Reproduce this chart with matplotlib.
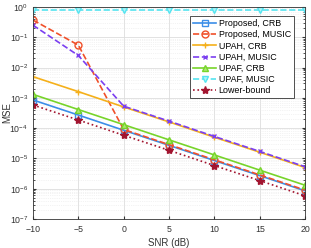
import matplotlib
matplotlib.use("Agg")
import matplotlib.pyplot as plt
import numpy as np

plt.rcParams['font.family'] = ['Liberation Sans', 'DejaVu Sans']
plt.rcParams['mathtext.fontset'] = 'custom'
plt.rcParams['mathtext.rm'] = 'Liberation Sans'
plt.rcParams['mathtext.it'] = 'Liberation Sans:italic'

snr = [-10, -5, 0, 5, 10, 15, 20]
prop_crb = [8.5e-4, 2.7e-4, 8.5e-5, 2.7e-5, 8.5e-6, 2.7e-6, 8.5e-7]
prop_music = [0.37, 0.055, 9.0e-5, 2.85e-5, 9.0e-6, 2.85e-6, 9.0e-7]
upah_crb = [5.0e-3, 1.6e-3, 5.0e-4, 1.6e-4, 5.0e-5, 1.6e-5, 5.0e-6]
upah_music = [0.25, 0.025, 5.3e-4, 1.7e-4, 5.3e-5, 1.7e-5, 5.3e-6]
upaf_crb = [1.3e-3, 4.1e-4, 1.3e-4, 4.1e-5, 1.3e-5, 4.1e-6, 1.3e-6]
upaf_music = [0.82, 0.82, 0.82, 0.82, 0.82, 0.82, 0.82]
lower = [5.8e-4, 1.85e-4, 5.8e-5, 1.85e-5, 5.8e-6, 1.85e-6, 5.8e-7]

fig = plt.figure(figsize=(3.11, 2.48), dpi=100)
ax = fig.add_axes([0.106, 0.117, 0.875, 0.855])

ms = 4
ax.plot(snr, prop_crb, '-', color='#3b8ee8', marker='s', ms=ms, mfc='none', lw=1.2, label='Proposed, CRB')
ax.plot(snr, prop_music, '--', color='#f0502a', marker='o', ms=ms+1, mfc='none', lw=1.2, label='Proposed, MUSIC')
ax.plot(snr, upah_crb, '-', color='#f5b01a', marker='+', ms=ms+1, lw=1.2, label='UPAH, CRB')
ax.plot(snr, upah_music, '--', color='#7b3ff0', marker='x', ms=ms-0.5, lw=1.2, label='UPAH, MUSIC')
ax.plot(snr, upaf_crb, '-', color='#77d42a', marker='^', ms=ms+1, mfc='#a8e870', lw=1.2, label='UPAF, CRB')
ax.plot(snr, upaf_music, '--', color='#55e4f0', marker='v', ms=ms+1, mfc='#b0f4f8', lw=1.2, label='UPAF, MUSIC')
ax.plot(snr, lower, ':', color='#a2142f', marker='*', ms=ms+2, lw=1.2, label='Lower-bound')

ax.set_yscale('log')
ax.set_xlim(-10, 20)
ax.set_ylim(1e-7, 1)
ax.set_xticks([-10, -5, 0, 5, 10, 15, 20])
ax.set_yticks([10.0**k for k in range(-7, 1)])
ax.grid(True, which='major', color='#dddddd', lw=0.6)
ax.grid(True, which='minor', color='#e8e8e8', lw=0.5, ls=':')
ax.tick_params(which='both', direction='in', labelsize=6.3, colors='#333333', top=True, right=True, length=2.5)
ax.tick_params(axis='x', pad=4)
ax.tick_params(which='minor', length=1.5)
for s in ax.spines.values():
    s.set_color('#333333')
    s.set_linewidth(0.6)
ax.set_xlabel('SNR (dB)', fontsize=7, color='#333333', labelpad=3)
ax.set_ylabel('MSE', fontsize=7, color='#333333')
ax.yaxis.set_label_coords(-0.076, 0.5)
leg = ax.legend(loc='upper right', bbox_to_anchor=(0.958, 0.955), fontsize=6.4, frameon=True, fancybox=False,
                edgecolor='#333333', framealpha=1, handlelength=2.6, labelspacing=0.25, borderpad=0.3,
                handletextpad=0.3, borderaxespad=0)
leg.get_frame().set_linewidth(0.6)
fig.savefig('out.png', dpi=100)
